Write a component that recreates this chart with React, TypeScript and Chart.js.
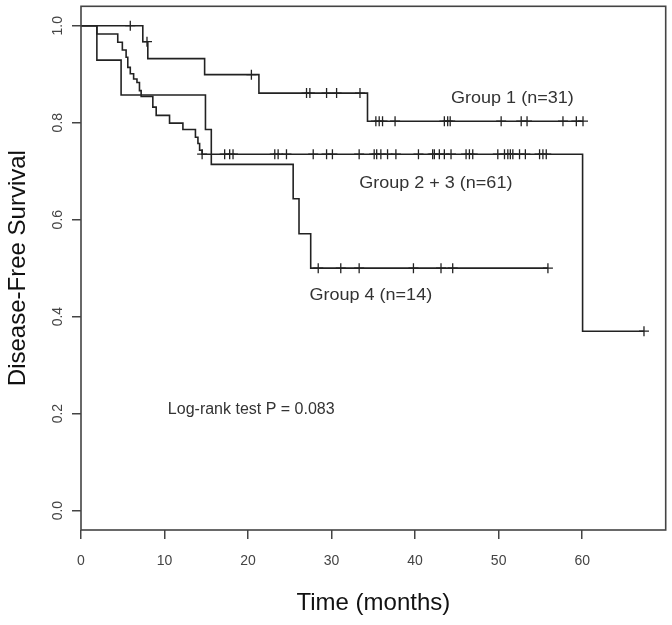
import React, { useEffect, useRef } from "react";
import { Chart, registerables } from "chart.js";

Chart.register(...registerables);

// ---- Data ----
const xTickValues = [0, 10, 20, 30, 40, 50, 60];
const yTickValues = [0.0, 0.2, 0.4, 0.6, 0.8, 1.0];

const group1Times = [0, 7.4, 8.0, 14.8, 21.3, 34.3, 60.1];
const group1Surv = [1.0, 0.967, 0.932, 0.899, 0.861, 0.803, 0.803];
const group1Censor = [5.9, 7.9, 20.4, 27.0, 27.4, 29.4, 30.6, 33.4, 35.3, 35.7, 36.1, 37.6, 43.5, 43.9, 44.2, 50.3, 52.7, 53.4, 57.7, 59.3, 60.1];

const group23Times = [0, 1.9, 4.4, 4.95, 5.4, 5.6, 5.9, 6.3, 6.7, 7.0, 7.2, 8.6, 9.0, 10.6, 12.2, 13.7, 14.0, 14.2, 14.5, 60.05, 67.4];
const group23Surv = [1.0, 0.983, 0.966, 0.95, 0.935, 0.914, 0.901, 0.89, 0.883, 0.866, 0.854, 0.832, 0.815, 0.799, 0.786, 0.77, 0.757, 0.743, 0.735, 0.37, 0.37];
const group23Censor = [14.5, 17.2, 17.8, 18.2, 23.2, 23.6, 24.6, 27.8, 29.4, 30.1, 33.3, 35.1, 35.4, 35.9, 36.7, 37.7, 40.4, 42.1, 42.3, 42.9, 43.5, 44.3, 46.1, 46.5, 46.9, 49.9, 50.7, 51.1, 51.4, 51.7, 52.5, 53.2, 54.9, 55.3, 55.7, 67.4];

const group4Times = [0, 1.9, 4.8, 14.9, 15.6, 25.4, 26.1, 27.5, 55.9];
const group4Surv = [1.0, 0.929, 0.857, 0.786, 0.714, 0.643, 0.571, 0.5, 0.5];
const group4Censor = [28.4, 31.1, 33.3, 39.8, 43.1, 44.5, 55.9];

const labelTexts = ["Group 1 (n=31)", "Group 2 + 3 (n=61)", "Group 4 (n=14)", "Log-rank test P = 0.083"];

// ---- helpers ----
const FONT = "'Liberation Sans', Arial, Helvetica, sans-serif";
const LINE = "#222";

function stepAt(times: number[], surv: number[], t: number) {
  let v = surv[0];
  for (let i = 0; i < times.length; i++) if (times[i] <= t) v = surv[i];
  return v;
}
function curve(times: number[], surv: number[]) {
  return times.map((t, i) => ({ x: t, y: surv[i] }));
}
function censors(times: number[], surv: number[], cs: number[]) {
  return cs.map((t) => ({ x: t, y: stepAt(times, surv, t) }));
}

const annotations = [
  { text: labelTexts[0], x: 44.3, y: 0.85, size: 17, stretch: 1.06 },
  { text: labelTexts[1], x: 33.3, y: 0.675, size: 17, stretch: 1.06 },
  { text: labelTexts[2], x: 27.35, y: 0.445, size: 17, stretch: 1.06 },
  { text: labelTexts[3], x: 10.4, y: 0.209, size: 16, stretch: 1.0 },
];

const decorPlugin = {
  id: "decor",
  afterDraw(chart: any) {
    const { ctx, chartArea, scales } = chart;
    ctx.save();
    // box
    ctx.strokeStyle = "#444";
    ctx.lineWidth = 1.6;
    ctx.strokeRect(chartArea.left, chartArea.top, chartArea.right - chartArea.left, chartArea.bottom - chartArea.top);
    // rotated y tick labels
    ctx.fillStyle = "#444";
    ctx.font = `14px ${FONT}`;
    ctx.textAlign = "center";
    ctx.textBaseline = "middle";
    yTickValues.forEach((v) => {
      const py = scales.y.getPixelForValue(v);
      ctx.save();
      ctx.translate(chartArea.left - 23, py);
      ctx.rotate(-Math.PI / 2);
      ctx.fillText(v.toFixed(1), 0, 0);
      ctx.restore();
    });
    // annotations
    ctx.fillStyle = "#333";
    ctx.textAlign = "left";
    ctx.textBaseline = "middle";
    annotations.forEach((a) => {
      ctx.save();
      ctx.font = `${a.size}px ${FONT}`;
      ctx.translate(scales.x.getPixelForValue(a.x), scales.y.getPixelForValue(a.y));
      ctx.scale(a.stretch, 1);
      ctx.fillText(a.text, 0, 0);
      ctx.restore();
    });
    ctx.restore();
  },
};

export default function App() {
  const ref = useRef<HTMLCanvasElement>(null);
  useEffect(() => {
    if (!ref.current) return;
    const lineDs = (times: number[], surv: number[]) => ({
      data: curve(times, surv),
      showLine: true,
      stepped: "before",
      borderColor: LINE,
      borderWidth: 1.6,
      pointRadius: 0,
      fill: false,
    });
    const censorDs = (times: number[], surv: number[], cs: number[]) => ({
      data: censors(times, surv, cs),
      showLine: false,
      pointStyle: "cross",
      pointRadius: 5,
      borderColor: LINE,
      borderWidth: 1.3,
      backgroundColor: LINE,
    });
    const chart = new Chart(ref.current, {
      type: "scatter",
      data: {
        datasets: [
          lineDs(group1Times, group1Surv),
          lineDs(group23Times, group23Surv),
          lineDs(group4Times, group4Surv),
          censorDs(group1Times, group1Surv, group1Censor),
          censorDs(group23Times, group23Surv, group23Censor),
          censorDs(group4Times, group4Surv, group4Censor),
        ] as any,
      },
      options: {
        animation: false,
        responsive: false,
        devicePixelRatio: 1,
        layout: { padding: { top: 5, right: 6, left: 0, bottom: 0 } },
        plugins: { legend: { display: false }, tooltip: { enabled: false } },
        scales: {
          x: {
            type: "linear",
            min: 0,
            max: 70,
            afterFit: (s: any) => {
              s.height = 95;
            },
            afterBuildTicks: (s: any) => {
              s.ticks = xTickValues.map((v) => ({ value: v }));
            },
            ticks: { color: "#444", font: { family: FONT, size: 14 }, padding: 14, maxRotation: 0 },
            grid: { drawOnChartArea: false, drawTicks: true, tickLength: 9, color: "#444", lineWidth: 1.5 },
            border: { display: false },
            title: {
              display: true,
              text: "Time (months)",
              color: "#111",
              font: { family: FONT, size: 24 },
              padding: { top: 0, bottom: 7 },
            },
          },
          y: {
            type: "linear",
            min: -0.04,
            max: 1.04,
            afterFit: (s: any) => {
              s.width = 81;
            },
            afterBuildTicks: (s: any) => {
              s.ticks = yTickValues.map((v) => ({ value: v }));
            },
            ticks: { display: false },
            grid: { drawOnChartArea: false, drawTicks: true, tickLength: 9, color: "#444", lineWidth: 1.5 },
            border: { display: false },
            title: {
              display: true,
              text: "Disease-Free Survival",
              color: "#111",
              font: { family: FONT, size: 24 },
              padding: { top: 4, bottom: 0 },
            },
          },
        },
      },
      plugins: [decorPlugin],
    } as any);
    return () => chart.destroy();
  }, []);
  return (
    <div style={{ position: "absolute", left: 0, top: 0, width: 672, height: 625, background: "#fff" }}>
      <canvas ref={ref} width={672} height={625} style={{ display: "block" }} />
    </div>
  );
}
